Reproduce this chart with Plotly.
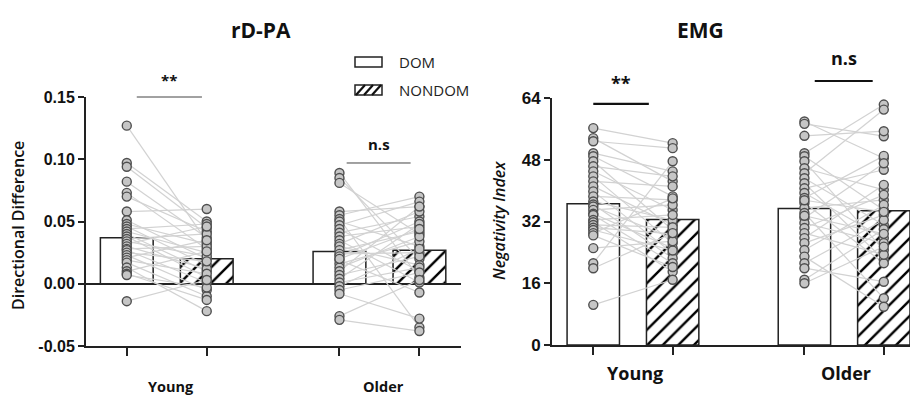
import plotly.graph_objects as go

# ---------------- data ----------------
groups = ["Young", "Older"]
conditions = ["DOM", "NONDOM"]
panel_titles = ["rD-PA", "EMG"]
y_titles = ["Directional Difference", "Negativity Index"]

rdpa_mean_dom = [0.037, 0.026]
rdpa_mean_nondom = [0.020, 0.027]
rdpa_sem_dom = [0.005, 0.005]
rdpa_sem_nondom = [0.003, 0.004]

rdpa_young_dom = [0.127, 0.097, 0.094, 0.082, 0.073, 0.070, 0.058, 0.051, 0.048, 0.046,
                  0.044, 0.042, 0.040, 0.038, 0.036, 0.034, 0.032, 0.030, 0.028, 0.027,
                  0.025, 0.023, 0.021, 0.019, 0.017, 0.013, 0.010, 0.008, 0.007, -0.014]
rdpa_young_nondom = [0.034, 0.050, 0.045, 0.037, 0.028, 0.042, 0.060, 0.020, 0.032, 0.015,
                     0.048, 0.025, 0.010, 0.005, 0.040, 0.022, 0.046, 0.012, 0.030, 0.001,
                     0.018, -0.005, 0.035, 0.008, -0.010, -0.022, 0.026, -0.013, -0.003, 0.003]
rdpa_older_dom = [0.089, 0.085, 0.081, 0.058, 0.055, 0.052, 0.050, 0.047, 0.044, 0.041,
                  0.038, 0.035, 0.032, 0.030, 0.027, 0.024, 0.022, 0.019, 0.016, 0.013,
                  0.010, 0.007, 0.004, 0.001, -0.002, -0.005, -0.008, 0.020, -0.026, -0.029]
rdpa_older_nondom = [0.005, 0.020, 0.040, 0.062, 0.070, -0.035, 0.030, 0.066, 0.010, 0.054,
                     0.046, 0.001, 0.058, 0.015, 0.042, 0.025, 0.050, -0.007, 0.034, 0.038,
                     0.062, 0.022, 0.048, 0.013, 0.028, 0.009, -0.028, 0.044, 0.003, -0.038]

emg_mean_dom = [36.6, 35.4]
emg_mean_nondom = [32.5, 34.8]
emg_sem_dom = [1.8, 1.8]
emg_sem_nondom = [1.5, 2.0]

emg_young_dom = [56.2, 53.6, 52.8, 49.7, 48.9, 47.6, 46.3, 45.0, 43.7, 42.4,
                 41.1, 39.8, 38.5, 37.2, 36.4, 35.9, 35.0, 34.0, 33.7, 32.4,
                 31.8, 31.1, 30.4, 29.8, 29.0, 28.4, 25.1, 21.2, 19.9, 10.4]
emg_young_nondom = [52.3, 42.4, 51.0, 45.0, 38.5, 29.8, 43.7, 35.0, 26.4, 41.1,
                    31.1, 23.8, 37.6, 32.4, 22.5, 27.7, 36.3, 25.1, 21.2, 33.7,
                    19.0, 30.5, 28.8, 24.5, 38.0, 20.2, 26.9, 47.6, 29.0, 16.9]
emg_older_dom = [57.9, 57.3, 54.2, 49.7, 48.9, 47.6, 45.8, 44.5, 43.2, 41.9,
                 40.6, 39.4, 38.1, 36.8, 35.5, 34.2, 32.9, 31.6, 30.3, 29.0,
                 27.7, 26.4, 24.6, 22.9, 21.2, 19.9, 16.9, 16.0, 37.5, 33.5]
emg_older_nondom = [48.4, 54.1, 55.4, 62.3, 35.0, 24.6, 40.2, 61.0, 31.1, 22.1,
                    45.4, 27.7, 49.0, 21.2, 37.6, 12.1, 47.1, 26.4, 38.9, 23.4,
                    41.5, 33.7, 36.3, 9.9, 32.4, 16.4, 30.0, 25.5, 34.5, 28.8]

rdpa_tickvals = [-0.05, 0.0, 0.05, 0.10, 0.15]
rdpa_ticktext = ["-0.05", "0.00", "0.05", "0.10", "0.15"]
emg_tickvals = [0, 16, 32, 48, 64]
emg_ticktext = ["0", "16", "32", "48", "64"]

sig_labels_rdpa = ["**", "n.s"]
sig_labels_emg = ["**", "n.s"]

# ---------------- layout constants ----------------
W, H = 910, 395
SLOTS = [[0.0, 1.0], [2.66, 3.66]]   # x slot of (group, condition)
BAR_W = 0.66

panels = [
    dict(xa="x", ya="y", xdom=[86 / W, 461 / W], ydom=[49 / H, 298 / H],
         xr=[-0.51, 4.18], yr=[-0.05, 0.15],
         mean_dom=rdpa_mean_dom, mean_nondom=rdpa_mean_nondom,
         sem_dom=rdpa_sem_dom, sem_nondom=rdpa_sem_nondom,
         pts=[[rdpa_young_dom, rdpa_young_nondom], [rdpa_older_dom, rdpa_older_nondom]],
         tv=rdpa_tickvals, tt=rdpa_ticktext, sig=sig_labels_rdpa),
    dict(xa="x2", ya="y2", xdom=[552 / W, 1.0], ydom=[50 / H, 297 / H],
         xr=[-0.52, 3.99], yr=[0, 64],
         mean_dom=emg_mean_dom, mean_nondom=emg_mean_nondom,
         sem_dom=emg_sem_dom, sem_nondom=emg_sem_nondom,
         pts=[[emg_young_dom, emg_young_nondom], [emg_older_dom, emg_older_nondom]],
         tv=emg_tickvals, tt=emg_ticktext, sig=sig_labels_emg),
]

AX = "#222222"
PT_FILL = "#c6c6c6"
PT_LINE = "#4f4f4f"
LINK = "#d2d2d2"
TXT_FONT = "Open Sans"
TICK_FONT = "Liberation Sans"


def to_px(p, xv=None, yv=None):
    """paper coords for a data point of a panel"""
    out = []
    if xv is not None:
        f = (xv - p["xr"][0]) / (p["xr"][1] - p["xr"][0])
        out.append(p["xdom"][0] + f * (p["xdom"][1] - p["xdom"][0]))
    if yv is not None:
        f = (yv - p["yr"][0]) / (p["yr"][1] - p["yr"][0])
        out.append(p["ydom"][0] + f * (p["ydom"][1] - p["ydom"][0]))
    return out


def note(text, x, y, size, weight=400, style="normal", color="#111", angle=0,
         xanchor="center", family=TXT_FONT):
    return dict(text=text, x=x, y=y, xref="paper", yref="paper", showarrow=False,
                xanchor=xanchor, yanchor="middle", textangle=angle,
                font=dict(family=family, size=size, color=color, weight=weight, style=style))


fig = go.Figure()

for p in panels:
    xd = [SLOTS[g][0] for g in range(len(groups))]
    xn = [SLOTS[g][1] for g in range(len(groups))]
    fig.add_trace(go.Bar(
        x=xd, y=p["mean_dom"], width=BAR_W, xaxis=p["xa"], yaxis=p["ya"],
        marker=dict(color="white", line=dict(color=AX, width=1.5)),
        error_y=dict(type="data", array=p["sem_dom"], color="#444", thickness=1.3, width=4),
        showlegend=False, name="DOM"))
    fig.add_trace(go.Bar(
        x=xn, y=p["mean_nondom"], width=BAR_W, xaxis=p["xa"], yaxis=p["ya"],
        marker=dict(color="white", line=dict(color=AX, width=1.5),
                    pattern=dict(shape="/", fgcolor="#000000", bgcolor="#ffffff",
                                 fgopacity=1, fillmode="replace",
                                 size=11, solidity=0.22)),
        error_y=dict(type="data", array=p["sem_nondom"], color="#444", thickness=1.3, width=4),
        showlegend=False, name="NONDOM"))
    # paired lines
    lx, ly = [], []
    for g in range(len(groups)):
        dvals, nvals = p["pts"][g]
        for a, b in zip(dvals, nvals):
            lx += [SLOTS[g][0], SLOTS[g][1], None]
            ly += [a, b, None]
    fig.add_trace(go.Scatter(x=lx, y=ly, mode="lines", xaxis=p["xa"], yaxis=p["ya"],
                             line=dict(color=LINK, width=1.2), showlegend=False,
                             hoverinfo="skip", cliponaxis=False))
    # points
    px_, py_ = [], []
    for g in range(len(groups)):
        for c in range(2):
            vals = p["pts"][g][c]
            px_ += [SLOTS[g][c]] * len(vals)
            py_ += vals
    fig.add_trace(go.Scatter(x=px_, y=py_, mode="markers", xaxis=p["xa"], yaxis=p["ya"],
                             marker=dict(size=9, color=PT_FILL,
                                         line=dict(color=PT_LINE, width=1.4)),
                             showlegend=False, cliponaxis=False))

axis_common = dict(showgrid=False, showline=True, linecolor=AX, linewidth=2,
                   ticks="outside", tickcolor=AX, tickwidth=1.5, fixedrange=True,
                   automargin=False)
all_slots = [s for pair in SLOTS for s in pair]

for i, p in enumerate(panels):
    sfx = "" if i == 0 else "2"
    fig.update_layout(**{
        "xaxis" + sfx: dict(axis_common, domain=p["xdom"], range=p["xr"],
                            anchor="y" + sfx, tickvals=all_slots,
                            ticktext=[""] * len(all_slots), ticklen=8, zeroline=False),
        "yaxis" + sfx: dict(axis_common, domain=p["ydom"], range=p["yr"],
                            anchor="x" + sfx, tickvals=p["tv"], ticktext=p["tt"],
                            ticklen=6,
                            tickfont=dict(family=TICK_FONT, size=16 if i == 0 else 17,
                                          color="#111", weight=700),
                            zeroline=(i == 0), zerolinecolor=AX, zerolinewidth=1.6),
    })

annotations = []
shapes = []

# titles
annotations.append(note(panel_titles[0], 261 / W, 1 - 30 / H, 21, 700))
annotations.append(note(panel_titles[1], 700 / W, 1 - 30 / H, 21, 700))

# y titles
annotations.append(note(y_titles[0], 18 / W, 1 - 226 / H, 16, 600, angle=-90))
annotations.append(note(y_titles[1], 499 / W, 1 - 221 / H, 16, 600, style="italic", angle=-90))

# group labels
for i, p in enumerate(panels):
    for g, name in enumerate(groups):
        cx = (SLOTS[g][0] + SLOTS[g][1]) / 2
        xp, = to_px(p, xv=cx)
        if i == 0:
            annotations.append(note(name, xp + 4 / W, 1 - 386 / H, 14.5, 700))
        else:
            annotations.append(note(name, xp + 2 / W, 1 - 373 / H, 18, 700))

# significance brackets (data units of each panel)
sig_geom = [
    # panel, group, x0, x1, y_line, y_text, line width
    (0, 0, 0.125, 0.94, 0.150, 0.164, 1.0),
    (0, 1, 2.75, 3.55, 0.097, 0.112, 1.0),
    (1, 0, 0.0, 0.70, 62.5, 68.0, 2.2),
    (1, 1, 2.79, 3.52, 68.4, 74.3, 2.2),
]
for pi, g, x0, x1, yl, yt, lw in sig_geom:
    p = panels[pi]
    X0, Y0 = to_px(p, xv=x0, yv=yl)
    X1, _ = to_px(p, xv=x1, yv=yl)
    shapes.append(dict(type="line", xref="paper", yref="paper", x0=X0, x1=X1, y0=Y0, y1=Y0,
                       line=dict(color="#111" if pi == 1 else "#444", width=lw)))
    XT, YT = to_px(p, xv=(x0 + x1) / 2, yv=yt)
    annotations.append(note(p["sig"][g], XT, YT, 15 if pi == 0 else 18, 700))

# legend (drawn)
lx0, lx1 = 355, 382
for k, (name, yc) in enumerate(zip(conditions, [62, 90])):
    shapes.append(dict(type="rect", xref="paper", yref="paper",
                       x0=lx0 / W, x1=lx1 / W, y0=1 - (yc + 5) / H, y1=1 - (yc - 5) / H,
                       line=dict(color="#222", width=1.5), fillcolor="white"))
    if k == 1:
        for off in [1, 9, 17]:
            xa0 = lx0 + off
            xa1 = min(xa0 + 9, lx1)
            shapes.append(dict(type="line", xref="paper", yref="paper",
                               x0=xa0 / W, x1=xa1 / W, y0=1 - (yc + 5) / H, y1=1 - (yc - 5) / H,
                               line=dict(color="#111", width=2.2)))
    annotations.append(note(name, 397 / W, 1 - yc / H, 15, 400, color="#222", xanchor="left"))

fig.update_layout(
    width=W, height=H, margin=dict(l=0, r=0, t=0, b=0, pad=0),
    paper_bgcolor="white", plot_bgcolor="white",
    barmode="overlay", showlegend=False,
    annotations=annotations, shapes=shapes,
)

fig.write_html("out.html", config={"displayModeBar": False},
               post_script="document.body.style.margin='0';document.body.style.padding='0';")
